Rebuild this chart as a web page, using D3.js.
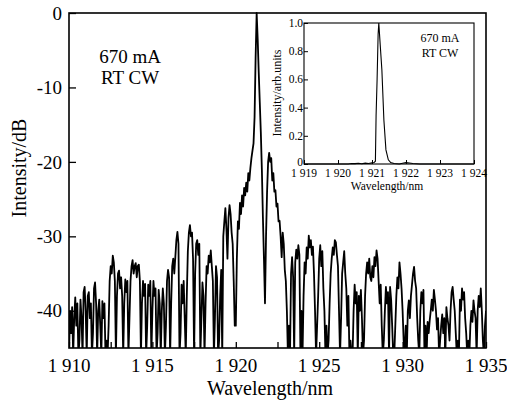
<!DOCTYPE html>
<html>
<head>
<meta charset="utf-8">
<script src="https://cdn.jsdelivr.net/npm/d3@7"></script>
<style>
  body { margin: 0; background: #fff; }
  svg { display: block; font-family: "Liberation Serif", "Times New Roman", serif; }
</style>
</head>
<body>
<div id="chart"></div>
<script>
// main spectrum, sampled every 1/16 nm from 1910 nm (one row per nm)
const spectrumStart = 1910;
const samplesPerNm = 16;
const spectrumDb = [
  -46, -40, -43, -39.5, -46, -41, -38.2, -42, -39, -46, -44, -38.5, -41, -46, -37.5, -36.8,
  -40, -46, -38, -37.5, -41, -39, -46, -43, -37, -36.2, -39, -46, -40, -38.5, -42, -46,
  -38.7, -41, -39, -46, -44, -46, -42, -36, -34, -35, -32.6, -33.5, -36, -46, -38, -35,
  -34.6, -37, -35.5, -38, -46, -39, -35.8, -37.5, -36, -46, -41, -36, -34, -33.2, -35, -34,
  -33.6, -35.5, -34, -33.8, -36, -46, -39, -36, -38, -36.4, -46, -42, -36.5, -38, -36, -46,
  -40, -36, -38, -37, -46, -43, -37.2, -39, -46, -40, -37, -39, -46, -42, -36, -34.5,
  -35.5, -46, -39, -34, -33, -35, -32.8, -30.5, -29.4, -31, -46, -43, -36.5, -39, -36, -41,
  -46, -38, -32, -29.5, -28.5, -30, -29.5, -33, -46, -35, -31, -30.5, -32.5, -31, -46, -41,
  -36.2, -38, -46, -39, -34, -35, -32.6, -33.5, -31.9, -34, -36, -46, -41, -34, -35.5, -46,
  -44, -38, -34.5, -46, -30, -28, -26.2, -29, -33, -27.5, -25.8, -27, -29.5, -31, -36, -42,
  -42, -33, -28, -29, -25.5, -27, -24.5, -26, -23.5, -24.5, -22.8, -24, -21.5, -22.5, -20.8, -19.5,
  -18.5, -17.5, -14, -6, 0, -3.5, -8, -12, -16, -21, -27.4, -33, -39, -30, -24, -20,
  -18.8, -20, -19.5, -22.5, -21.5, -24, -23.8, -26, -25.6, -28, -27.9, -30, -32.8, -29.5, -31, -34.5,
  -36, -40, -46, -42, -46, -35, -32.8, -35.5, -46, -33.5, -31.8, -33, -31.2, -32.5, -46, -40,
  -46, -38, -33.5, -35, -31.5, -33, -29.9, -31.5, -30.5, -32.5, -31.4, -35, -40, -46, -42, -38,
  -33, -31.2, -34, -32, -37, -40, -46, -42, -46, -44, -39, -35, -33, -31.5, -32.5, -30.5,
  -30.8, -32.5, -34, -40, -46, -41, -35, -33.5, -32, -35, -37, -42, -38, -46, -44, -46,
  -46, -40, -36.5, -39, -37.5, -46, -38, -40, -37.2, -41, -46, -44, -38, -35, -33.5, -35,
  -33, -35.5, -36, -34, -35.5, -32.8, -34, -31.9, -33, -36, -39, -36.5, -42, -46, -44, -40,
  -36.8, -39, -37.5, -46, -36.8, -38.5, -42, -46, -46, -42, -38, -35.5, -37, -33.5, -35, -37,
  -40, -44, -46, -42, -46, -40, -38.6, -41, -38, -36.5, -35, -34.1, -36, -37, -41, -44,
  -46, -40, -37.5, -39, -37.2, -46, -42, -46, -41.5, -43, -41.3, -40, -38.5, -40, -37.2, -38.5,
  -40, -42.5, -41, -46, -44, -42, -40.5, -43, -41, -46, -39.5, -41, -42, -44, -40, -37.5,
  -36.8, -38.5, -40, -43, -46, -44, -46, -38.5, -40, -37, -38.5, -37.5, -41, -43, -46, -44,
  -46, -42, -40, -41.5, -38.6, -40, -41, -46, -40, -38, -39.5, -37, -40, -44, -46, -42,
  -40
];
const mainXTicks = [1910, 1912.5, 1915, 1917.5, 1920, 1922.5, 1925, 1927.5, 1930, 1932.5, 1935];
const mainXLabels = [1910, 1915, 1920, 1925, 1930, 1935];
const mainYTicks = [0, -10, -20, -30, -40];

// inset, linear scale
const insetWl  = [1919, 1920.3, 1920.4, 1920.5, 1920.6, 1920.7, 1920.8, 1920.9, 1921.0, 1921.06, 1921.1, 1921.12, 1921.15, 1921.18, 1921.2, 1921.24, 1921.29, 1921.35, 1921.41, 1921.48, 1921.55, 1921.65, 1921.8, 1921.9, 1922.0, 1922.1, 1922.2, 1922.3, 1922.4, 1924];
const insetVal = [0, 0, 0.004, 0.003, 0.005, 0.002, 0.006, 0.004, 0.008, 0.01, 0.02, 0.34, 0.6, 0.92, 1.0, 0.85, 0.67, 0.31, 0.1, 0.03, 0.01, 0.003, 0, 0.005, 0.01, 0.007, 0.004, 0.002, 0, 0];
const insetXTicks = [1919, 1920, 1921, 1922, 1923, 1924];
const insetYTicks = [0, 0.2, 0.4, 0.6, 0.8, 1.0];
const noteLines = ["670 mA", "RT CW"];

(function spectrum(){
    let width = 507,
    height = 403,
    margin = ({top: 13, right: 21, bottom: 55, left: 69})

    const svg = d3.select("#chart")
    .append("svg")
    .attr("width", width)
    .attr("height", height);

    const fmtWl = d => { let s = String(d); return s[0] + " " + s.slice(1); };

    // main scales
    let x = d3.scaleLinear()
    .domain([1910, 1935])
    .range([margin.left, width - margin.right]);

    let y = d3.scaleLinear()
    .domain([-45, 0])
    .range([height - margin.bottom, margin.top]);

    const points = spectrumDb.map((v, i) => ({wl: spectrumStart + i / samplesPerNm, db: v}));

    svg.append("clipPath").attr("id", "plotclip")
    .append("rect")
    .attr("x", x(1910)).attr("y", y(0) - 1)
    .attr("width", x(1935) - x(1910)).attr("height", y(-45) - y(0) + 1);

    const line = d3.line()
    .x(d => x(d.wl))
    .y(d => y(d.db));

    svg.append("path")
    .datum(points)
    .attr("clip-path", "url(#plotclip)")
    .attr("fill", "none")
    .attr("stroke", "#000")
    .attr("stroke-width", 1.8)
    .attr("stroke-linejoin", "round")
    .attr("d", line);

    // main axes (inward ticks)
    svg.append("g")
    .attr("transform", `translate(0,${y(-45)})`)
    .call(d3.axisTop(x).tickValues(mainXTicks).tickSize(6).tickFormat(""))
    .call(g => g.select(".domain").remove())
    .call(g => g.selectAll("line").attr("stroke-width", 1.3));

    svg.append("g")
    .selectAll("text")
    .data(mainXLabels)
    .join("text")
    .attr("x", d => x(d))
    .attr("y", 372)
    .attr("text-anchor", "middle")
    .attr("font-size", 19)
    .text(fmtWl);

    svg.append("g")
    .attr("transform", `translate(${x(1910)},0)`)
    .call(d3.axisRight(y).tickValues(mainYTicks).tickSize(7).tickFormat(""))
    .call(g => g.select(".domain").remove())
    .call(g => g.selectAll("line").attr("stroke-width", 1.3));

    svg.append("g")
    .selectAll("text")
    .data(mainYTicks)
    .join("text")
    .attr("x", 62)
    .attr("y", d => y(d))
    .attr("dy", "0.35em")
    .attr("text-anchor", "end")
    .attr("font-size", 19)
    .text(d => d);

    svg.append("rect")
    .attr("x", x(1910)).attr("y", y(0))
    .attr("width", x(1935) - x(1910)).attr("height", y(-45) - y(0))
    .attr("fill", "none").attr("stroke", "#000").attr("stroke-width", 1.6);

    svg.append("text")
    .attr("x", 270).attr("y", 395)
    .attr("text-anchor", "middle").attr("font-size", 20)
    .text("Wavelength/nm");

    svg.append("text")
    .attr("transform", "translate(26,168) rotate(-90)")
    .attr("text-anchor", "middle").attr("font-size", 20)
    .text("Intensity/dB");

    svg.append("g")
    .selectAll("text")
    .data(noteLines)
    .join("text")
    .attr("x", 130)
    .attr("y", (d, i) => 63 + i * 21)
    .attr("text-anchor", "middle")
    .attr("font-size", 19)
    .text(d => d);

    // inset
    let ix = d3.scaleLinear()
    .domain([1919, 1924])
    .range([304, 474]);

    let iy = d3.scaleLinear()
    .domain([0, 1])
    .range([164, 23]);

    svg.append("rect")
    .attr("x", ix(1919)).attr("y", iy(1))
    .attr("width", ix(1924) - ix(1919)).attr("height", iy(0) - iy(1))
    .attr("fill", "#fff");

    svg.append("path")
    .datum(insetWl.map((w, i) => ({wl: w, v: insetVal[i]})))
    .attr("fill", "none")
    .attr("stroke", "#000")
    .attr("stroke-width", 1.1)
    .attr("d", d3.line().x(d => ix(d.wl)).y(d => iy(d.v)));

    svg.append("g")
    .attr("transform", `translate(0,${iy(0)})`)
    .call(d3.axisTop(ix).tickValues(insetXTicks).tickSize(4).tickFormat(""))
    .call(g => g.select(".domain").remove());

    svg.append("g")
    .attr("transform", `translate(${ix(1919)},0)`)
    .call(d3.axisRight(iy).tickValues(insetYTicks).tickSize(4).tickFormat(""))
    .call(g => g.select(".domain").remove());

    svg.append("rect")
    .attr("x", ix(1919)).attr("y", iy(1))
    .attr("width", ix(1924) - ix(1919)).attr("height", iy(0) - iy(1))
    .attr("fill", "none").attr("stroke", "#000").attr("stroke-width", 1.1);

    svg.append("g")
    .selectAll("text")
    .data(insetXTicks)
    .join("text")
    .attr("x", d => ix(d))
    .attr("y", 177)
    .attr("text-anchor", "middle")
    .attr("font-size", 11.5)
    .text(fmtWl);

    svg.append("g")
    .selectAll("text")
    .data(insetYTicks)
    .join("text")
    .attr("x", 303)
    .attr("y", d => d === 0 ? iy(d) - 2 : iy(d))
    .attr("dy", "0.35em")
    .attr("text-anchor", "end")
    .attr("font-size", 11.5)
    .text(d => d === 0 ? "0" : d.toFixed(1));

    svg.append("text")
    .attr("x", 387).attr("y", 190)
    .attr("text-anchor", "middle").attr("font-size", 11.5)
    .text("Wavelength/nm");

    svg.append("text")
    .attr("transform", "translate(281,93) rotate(-90)")
    .attr("text-anchor", "middle").attr("font-size", 12)
    .text("Intensity/arb.units");

    svg.append("g")
    .selectAll("text")
    .data(noteLines)
    .join("text")
    .attr("x", 440)
    .attr("y", (d, i) => 42 + i * 15)
    .attr("text-anchor", "middle")
    .attr("font-size", 12)
    .text(d => d);
})();
</script>
</body>
</html>
